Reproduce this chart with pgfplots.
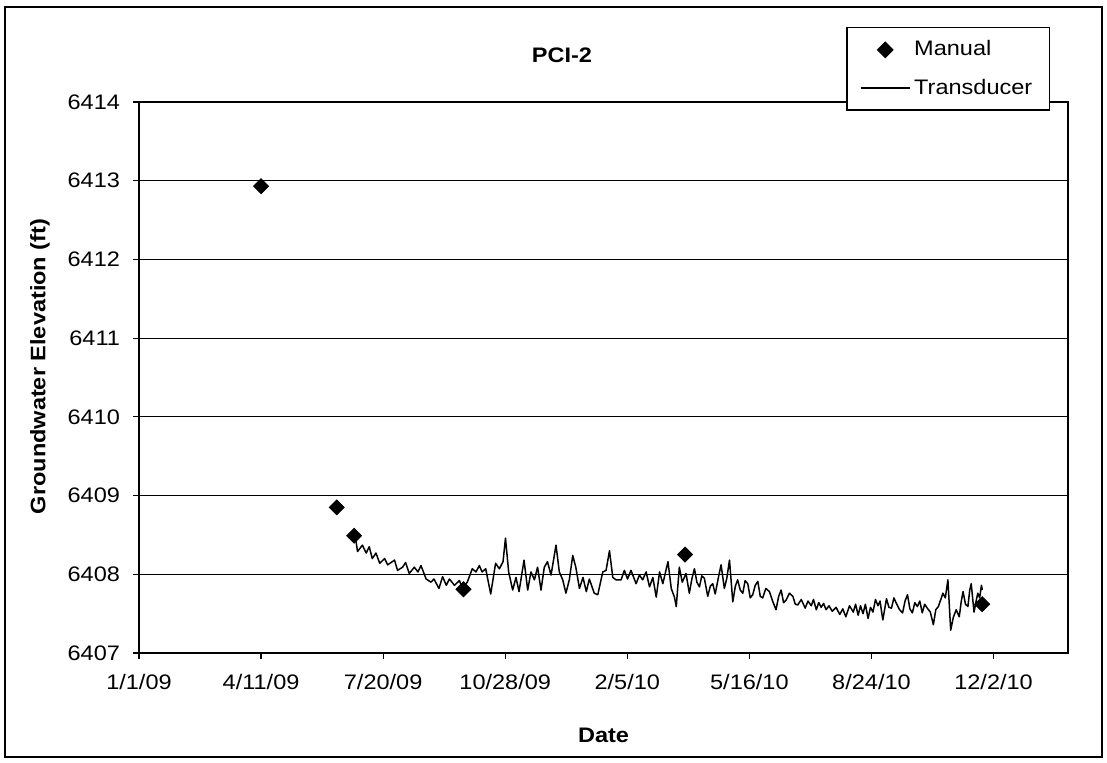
\documentclass[border=0pt]{standalone}
\usepackage{pgfplots}
\pgfplotsset{compat=1.18}
\usepackage{fontspec}
\setmainfont[FakeStretch=1.12]{Liberation Sans}
\begin{document}
\begin{tikzpicture}
\useasboundingbox (0pt,0pt) rectangle (553.5pt,381pt);
\draw[line width=0.8pt] (2.5pt,2.5pt) rectangle (551pt,377.5pt);
\node[font=\bfseries\fontsize{10.5}{12}\selectfont] at (281pt,353.5pt) {PCI-2};
\begin{axis}[
  at={(69.5pt,54.5pt)}, anchor=south west,
  scale only axis, width=464.5pt, height=275.5pt,
  xmin=0, xmax=761, ymin=6407, ymax=6414,
  xtick={0,100,200,300,400,500,600,700},
  xticklabels={1/1/09,4/11/09,7/20/09,10/28/09,2/5/10,5/16/10,8/24/10,12/2/10},
  ytick={6407,6408,6409,6410,6411,6412,6413,6414},
  ymajorgrids, grid style={black, line width=0.6pt},
  axis line style={line width=0.7pt},
  tick align=outside, major tick length=3pt, tick style={black, line width=0.6pt},
  xtick pos=bottom, ytick pos=left,
  ticklabel style={font=\fontsize{10.5}{12}\selectfont},
  /pgf/number format/assume math mode=true,
  /pgf/number format/1000 sep={},
  xticklabel style={yshift=-4pt},
  yticklabel style={xshift=-3pt},
  xlabel={\textbf{Date}},
  ylabel={\textbf{Groundwater Elevation (ft)}},
  label style={font=\fontsize{10.5}{12}\selectfont},
  xlabel style={at={(axis description cs:0.5,-0.149)}, anchor=center},
  ylabel style={at={(axis description cs:-0.1066,0.52)}, anchor=center},
  legend style={at={(axis description cs:0.9806,1.136)}, anchor=north east,
    draw=black, line width=0.7pt, fill=white,
    font=\fontsize{10.5}{12}\selectfont, inner xsep=6.5pt, inner ysep=4.5pt,
    row sep=6pt, cells={anchor=west}},
]
\addplot[only marks, mark=square*, mark size=2.65pt, mark options={rotate=45, fill=black, draw=black},
  legend image code/.code={\draw[mark=square*, mark size=2.65pt, mark options={rotate=45, fill=black}] plot coordinates {(0.43cm,0cm)};}]
  table {
x y
100 6412.93
162 6408.85
176.2 6408.49
265.8 6407.81
447.3 6408.25
690.7 6407.62
};
\addlegendentry{Manual}
\addplot[black, line width=0.75pt, mark=none, line join=round,
  legend image code/.code={\draw[black, line width=0.6pt] (0cm,0cm) -- (0.86cm,0cm);}]
  table {
x y
177.6 6408.44
179.0 6408.29
183.0 6408.37
186.1 6408.27
188.6 6408.35
191.1 6408.20
194.1 6408.27
197.2 6408.14
201.2 6408.20
203.7 6408.12
209.3 6408.18
211.8 6408.05
215.9 6408.09
218.4 6408.15
221.4 6408.01
225.5 6408.09
228.5 6408.03
231.0 6408.11
235.2 6407.94
239.2 6407.90
241.6 6407.94
245.7 6407.82
248.7 6407.97
251.7 6407.86
254.3 6407.94
258.4 6407.86
262.5 6407.92
264.9 6407.82
268.9 6407.90
273.0 6408.07
276.0 6408.03
278.8 6408.11
281.0 6408.03
284.0 6408.07
288.1 6407.75
292.1 6408.14
295.2 6408.07
298.2 6408.16
300.2 6408.46
302.8 6408.03
306.1 6407.80
308.8 6407.96
311.3 6407.78
315.4 6408.18
318.4 6407.80
321.1 6408.03
323.9 6407.93
326.5 6408.09
329.3 6407.80
332.0 6408.09
334.6 6408.16
337.5 6407.99
341.6 6408.37
344.3 6408.03
347.1 6407.93
349.7 6407.76
352.5 6407.93
355.3 6408.24
357.8 6408.09
360.8 6407.82
363.7 6407.96
366.4 6407.78
368.9 6407.94
372.9 6407.76
375.8 6407.74
379.9 6408.03
382.6 6408.05
385.4 6408.30
388.1 6407.96
390.7 6407.93
394.9 6407.93
397.6 6408.05
400.2 6407.94
403.0 6408.05
407.2 6407.88
409.9 6407.99
412.6 6407.93
415.4 6408.03
418.2 6407.84
420.9 6407.96
423.7 6407.71
426.4 6408.03
429.1 6407.88
433.3 6408.16
436.0 6407.82
438.6 6407.71
440.1 6407.59
442.6 6408.09
445.0 6407.90
448.1 6408.01
450.8 6407.76
453.0 6407.95
455.0 6408.07
457.0 6407.90
459.1 6407.84
461.0 6407.98
463.1 6407.95
465.9 6407.72
468.0 6407.85
470.0 6407.88
472.0 6407.75
474.5 6407.95
476.8 6408.12
479.5 6407.82
481.5 6407.95
483.7 6408.18
486.4 6407.65
488.5 6407.85
490.4 6407.93
492.5 6407.80
494.6 6407.76
496.5 6407.92
498.7 6407.88
500.7 6407.70
502.7 6407.74
504.8 6407.86
506.9 6407.91
508.9 6407.72
510.9 6407.70
513.5 6407.82
516.4 6407.78
519.0 6407.66
521.8 6407.55
524.0 6407.72
526.0 6407.80
528.0 6407.64
530.0 6407.67
532.8 6407.76
535.6 6407.72
537.6 6407.62
539.6 6407.61
542.5 6407.68
545.7 6407.57
548.0 6407.66
550.7 6407.60
552.5 6407.68
554.8 6407.55
556.8 6407.64
558.8 6407.58
560.8 6407.63
562.8 6407.55
565.2 6407.60
567.9 6407.53
571.0 6407.58
574.0 6407.49
576.5 6407.56
579.0 6407.46
582.0 6407.60
585.1 6407.52
587.0 6407.62
589.1 6407.48
591.0 6407.60
593.1 6407.50
595.0 6407.62
597.2 6407.44
599.2 6407.58
601.2 6407.52
603.3 6407.68
605.3 6407.60
607.0 6407.66
609.3 6407.42
612.3 6407.69
614.3 6407.58
616.4 6407.57
618.4 6407.70
620.4 6407.63
623.0 6407.55
625.5 6407.51
627.5 6407.66
629.5 6407.74
631.5 6407.56
633.5 6407.51
635.5 6407.64
637.6 6407.59
639.6 6407.66
641.6 6407.51
643.6 6407.62
645.7 6407.57
648.2 6407.52
650.7 6407.36
652.7 6407.55
654.8 6407.59
656.8 6407.68
658.5 6407.76
660.5 6407.70
662.6 6407.93
664.9 6407.29
667.0 6407.45
669.4 6407.55
671.9 6407.46
673.5 6407.65
675.0 6407.78
677.0 6407.62
679.0 6407.59
680.5 6407.80
681.7 6407.88
684.0 6407.52
685.6 6407.65
687.1 6407.76
688.6 6407.70
690.1 6407.86
690.8 6407.80
};
\addlegendentry{Transducer}
\end{axis}
\end{tikzpicture}
\end{document}
